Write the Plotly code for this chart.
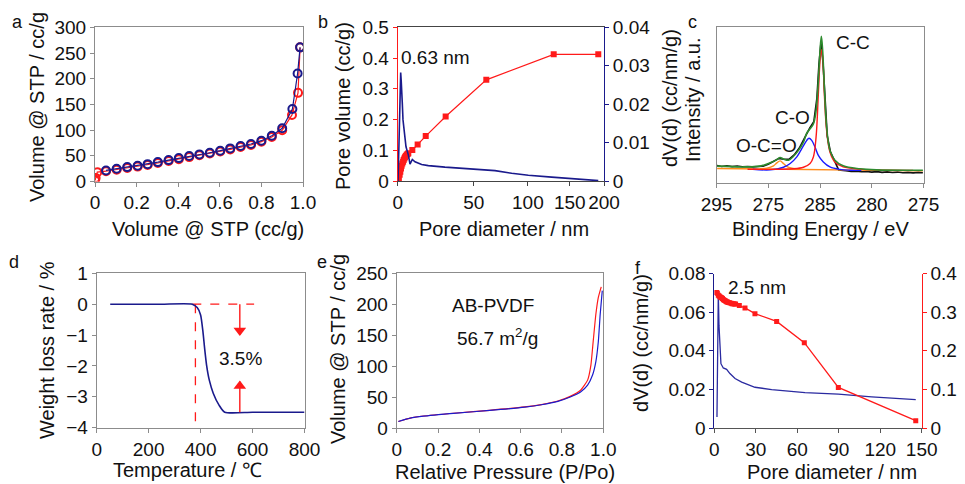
import math
import plotly.graph_objects as go

W, H = 965, 484
RED = "#ff1a1a"
NAVY = "#1a1a8c"
GREY = "#8c8c8c"
FONT = "Liberation Sans, Arial, sans-serif"

# ---------------- Panel a: isotherm (circles) ----------------
a_ads_x = [0.0005, 0.003, 0.011, 0.053, 0.104, 0.155, 0.205, 0.253, 0.302, 0.354, 0.403,
           0.453, 0.502, 0.552, 0.602, 0.65, 0.70, 0.75, 0.80, 0.85, 0.90, 0.947, 0.976, 0.986]
a_ads_y = [2, 7, 18.2, 20, 23, 26.2, 29, 32, 36, 40, 43.5, 47.5, 51, 54.5, 58.3, 62.5, 67,
           71, 77.5, 86.5, 99.6, 129.5, 172.5, 261]
a_des_x = [0.053, 0.104, 0.155, 0.205, 0.253, 0.302, 0.354, 0.403, 0.453, 0.502, 0.552,
           0.602, 0.65, 0.70, 0.75, 0.80, 0.85, 0.90, 0.949, 0.974, 0.986]
a_des_y = [21.5, 24.7, 28, 30.6, 33.8, 37.7, 41.6, 45.5, 49.5, 52.7, 56, 59.9, 64.4, 69,
           72.9, 79.4, 89, 103.5, 141, 210, 261]
a_xticks = [0, 0.2, 0.4, 0.6, 0.8, 1.0]
a_xticktext = ["0", "0.2", "0.4", "0.6", "0.8", "1.0"]

# ---------------- Panel b: pore size distribution ----------------
b_cum_d = [0.34, 0.6, 1.05, 1.4, 1.77, 2.1, 2.49, 2.9, 3.23, 3.6, 3.96, 4.4, 4.9, 5.4, 5.82,
           8.1, 11.2, 16.1, 29.1, 60.3, 129.5, 191]
b_cum_v = [0.0, 0.01, 0.02, 0.03, 0.041, 0.05, 0.057, 0.063, 0.068, 0.073, 0.077, 0.081,
           0.085, 0.088, 0.09, 0.101, 0.119, 0.146, 0.21, 0.329, 0.412, 0.412]
b_dv_d = [0, 0.16, 0.6, 1.05, 1.35, 1.6, 1.9, 2.13, 2.5, 2.86, 3.59, 4.52, 5.82, 6.77, 8.1,
          9.65, 13.6, 17.7, 28.6, 40.6, 59.1, 67.9, 83.5, 100.5, 127, 161.5, 191]
b_dv_v = [0, 0.0, 0.008, 0.021, 0.027, 0.0282, 0.026, 0.0246, 0.02, 0.0159, 0.012, 0.0089,
          0.0068, 0.0044, 0.0056, 0.005, 0.0043, 0.004, 0.0036, 0.0033, 0.0029, 0.0027,
          0.002, 0.0015, 0.001, 0.0005, 0.0001]
b_xticks = [0, 50, 100, 150, 200]
b_xticktext = ["0", "50", "100", "150", "200"]
B_OFFSET = 100  # axis of the original behaves like log(d + 100)

# ---------------- Panel c: XPS C1s ----------------
c_raw_be = [294.95, 294.5, 294.0, 293.5, 293.0, 292.5, 292.0, 291.5, 291.0, 290.5, 290.0,
            289.5, 289.0, 288.5, 288.0, 287.5, 287.0, 286.5, 286.0, 285.6, 285.3, 285.1,
            284.9, 284.7, 284.5, 284.3, 284.0, 283.6, 283.2, 282.5, 282.0, 281.5, 281.0,
            280.5, 280.0, 279.5, 279.0, 278.5, 278.0, 277.5, 277.0, 276.5, 276.0, 275.5, 275.06]
c_raw_i = [0.110, 0.104, 0.108, 0.103, 0.106, 0.102, 0.104, 0.101, 0.104, 0.106, 0.118,
           0.135, 0.155, 0.150, 0.150, 0.178, 0.222, 0.285, 0.350, 0.390, 0.540, 0.760,
           0.900, 0.760, 0.520, 0.300, 0.200, 0.140, 0.082, 0.076, 0.072, 0.074, 0.070,
           0.072, 0.068, 0.071, 0.066, 0.069, 0.065, 0.068, 0.064, 0.066, 0.063, 0.066, 0.064]
c_env_be = [294.94, 292.37, 290.77, 289.81, 289.17, 288.85, 288.53, 288.04, 287.56, 287.08,
            286.6, 286.28, 285.96, 285.64, 285.38, 285.16, 285.0, 284.87, 284.74, 284.58,
            284.36, 284.04, 283.56, 282.76, 281.15, 279.55, 275.06]
c_env_i = [0.106, 0.101, 0.106, 0.127, 0.148, 0.161, 0.152, 0.144, 0.169, 0.207, 0.26, 0.317,
           0.345, 0.376, 0.461, 0.651, 0.841, 0.937, 0.841, 0.609, 0.355, 0.207, 0.144, 0.108,
           0.089, 0.082, 0.080]
c_cc_be = [292.0, 287.56, 286.6, 285.96, 285.64, 285.38, 285.16, 285.0, 284.87, 284.74,
           284.58, 284.36, 284.04, 283.56, 282.76, 281.15, 279.55, 276.0]
c_cc_i = [0.086, 0.089, 0.099, 0.123, 0.165, 0.292, 0.567, 0.778, 0.852, 0.799, 0.567, 0.334,
          0.197, 0.133, 0.101, 0.087, 0.082, 0.079]
c_co_be = [291.5, 289.81, 288.53, 287.88, 287.24, 286.76, 286.28, 286.06, 285.8, 285.48,
           285.16, 284.68, 284.04, 283.08, 282.12, 281.0]
c_co_i = [0.086, 0.082, 0.099, 0.123, 0.165, 0.218, 0.271, 0.285, 0.271, 0.228, 0.175, 0.133,
          0.101, 0.085, 0.080, 0.079]
c_occ_be = [290.8, 290.13, 289.49, 289.17, 288.85, 288.53, 288.14, 287.56, 287.0]
c_occ_i = [0.089, 0.093, 0.108, 0.127, 0.140, 0.123, 0.101, 0.091, 0.088]
c_base_be = [294.94, 275.06]
c_base_i = [0.091, 0.076]
c_xticks = [295, 290, 285, 280, 275]
c_xticktext = ["295", "275", "285", "280", "275"]

# ---------------- Panel d: TGA ----------------
d_temp = [52, 150, 250, 368, 387, 400, 409, 415.5, 423, 433.5, 449, 471, 493, 600, 800]
d_loss = [0.0, 0.0, 0.0, 0.0, -0.11, -0.35, -0.89, -1.43, -1.97, -2.46, -2.89, -3.27, -3.5,
          -3.5, -3.5]
d_hline_x = [368, 606]
d_hline_y = [0, 0]
d_vline_x = [380, 380]
d_vline_y = [0, -4]
d_arrow_x = [551, 551]
d_arrow_down_y = [0, -1.0]     # shaft start -> arrow tip
d_arrow_up_y = [-3.5, -2.5]    # shaft start -> arrow tip
HEAD = 0.15                    # arrow head drawn just behind the tip

# ---------------- Panel e: AB-PVDF isotherm ----------------
e_des_p = [0.008, 0.065, 0.13, 0.29, 0.45, 0.62, 0.70, 0.78, 0.84, 0.89, 0.924, 0.948,
           0.964, 0.976, 0.985, 0.995]
e_des_v = [10.9, 16.3, 19.6, 24.5, 28.8, 34.2, 38, 43.5, 50.5, 58.7, 69.6, 85.9, 107.6, 140,
           184, 222]
e_ads_p = [0.008, 0.065, 0.13, 0.29, 0.45, 0.62, 0.70, 0.78, 0.84, 0.89, 0.924, 0.94, 0.951,
           0.964, 0.976, 0.99]
e_ads_v = [10.9, 16.5, 19.8, 24.7, 29, 34.4, 38.3, 44, 51.5, 61.4, 77.7, 102, 140, 184, 211,
           228]

# ---------------- Panel f: AB-PVDF pore distribution ----------------
f_dv_d = [1.93, 2.4, 2.9, 3.4, 4.1, 4.8, 6.5, 8.9, 11.3, 15, 19.8, 29.4, 41.5, 65.6, 89.7,
          113.8, 145.7]
f_dv_v = [0.0057, 0.0325, 0.0696, 0.053, 0.0394, 0.0333, 0.0311, 0.0304, 0.0282, 0.0256,
          0.0238, 0.0211, 0.0199, 0.0183, 0.0175, 0.0161, 0.0147]
f_cum_d = [1.7, 2.2, 2.9, 3.5, 4.1, 4.7, 5.3, 5.9, 6.5, 7.1, 7.7, 8.3, 8.9, 9.5, 10.1, 11.1,
           12.1, 12.9, 13.7, 14.5, 15.4, 18.1, 22.2, 29.4, 45.1, 65.1, 89.7, 145.7]
f_cum_v = [0.351, 0.349, 0.344, 0.342, 0.340, 0.338, 0.337, 0.335, 0.333, 0.331, 0.330,
           0.328, 0.327, 0.326, 0.325, 0.324, 0.323, 0.322, 0.322, 0.321, 0.321, 0.317,
           0.311, 0.296, 0.276, 0.221, 0.105, 0.019]


def dx(l, r):
    return [l / W, r / W]


def dy(t, b):
    return [1 - b / H, 1 - t / H]


fig = go.Figure()

# a
fig.add_trace(go.Scatter(x=a_ads_x, y=a_ads_y, xaxis="x", yaxis="y", mode="lines+markers",
                         line=dict(color=RED, width=1.2),
                         marker=dict(symbol="circle-open", size=8, color=RED,
                                     line=dict(width=2, color=RED))))
fig.add_trace(go.Scatter(x=a_des_x, y=a_des_y, xaxis="x", yaxis="y", mode="lines+markers",
                         line=dict(color=NAVY, width=1.2),
                         marker=dict(symbol="circle-open", size=8, color=NAVY,
                                     line=dict(width=2, color=NAVY))))

# b
fig.add_trace(go.Scatter(x=[d + B_OFFSET for d in b_cum_d], y=b_cum_v, xaxis="x2", yaxis="y2",
                         mode="lines+markers", line=dict(color=RED, width=1.2),
                         marker=dict(symbol="square", size=6, color=RED)))
fig.add_trace(go.Scatter(x=[d + B_OFFSET for d in b_dv_d], y=b_dv_v, xaxis="x2", yaxis="y7",
                         mode="lines", line=dict(color=NAVY, width=1.6)))

# c
fig.add_trace(go.Scatter(x=c_raw_be, y=c_raw_i, xaxis="x3", yaxis="y3", mode="lines",
                         line=dict(color="#111111", width=1.6)))
fig.add_trace(go.Scatter(x=c_base_be, y=c_base_i, xaxis="x3", yaxis="y3", mode="lines",
                         line=dict(color="#ff8c1a", width=1.4)))
fig.add_trace(go.Scatter(x=c_occ_be, y=c_occ_i, xaxis="x3", yaxis="y3", mode="lines",
                         line=dict(color="#ff8c1a", width=1.4, shape="spline")))
fig.add_trace(go.Scatter(x=c_co_be, y=c_co_i, xaxis="x3", yaxis="y3", mode="lines",
                         line=dict(color="#1a1aff", width=1.4, shape="spline")))
fig.add_trace(go.Scatter(x=c_cc_be, y=c_cc_i, xaxis="x3", yaxis="y3", mode="lines",
                         line=dict(color="#ff1a1a", width=1.4, shape="spline")))
fig.add_trace(go.Scatter(x=c_env_be, y=c_env_i, xaxis="x3", yaxis="y3", mode="lines",
                         line=dict(color="#2e8b2e", width=1.6, shape="spline")))

# d
fig.add_trace(go.Scatter(x=d_hline_x, y=d_hline_y, xaxis="x4", yaxis="y4", mode="lines",
                         line=dict(color=RED, width=1.3, dash="dash")))
fig.add_trace(go.Scatter(x=d_vline_x, y=d_vline_y, xaxis="x4", yaxis="y4", mode="lines",
                         line=dict(color=RED, width=1.3, dash="dash")))
fig.add_trace(go.Scatter(x=d_temp, y=d_loss, xaxis="x4", yaxis="y4", mode="lines",
                         line=dict(color=NAVY, width=1.6, shape="spline", smoothing=0.6)))
# arrows: shaft + triangular head
fig.add_trace(go.Scatter(x=d_arrow_x, y=d_arrow_down_y, xaxis="x4", yaxis="y4",
                         mode="lines", line=dict(color=RED, width=1.4)))
fig.add_trace(go.Scatter(x=d_arrow_x, y=d_arrow_up_y, xaxis="x4", yaxis="y4",
                         mode="lines", line=dict(color=RED, width=1.4)))
fig.add_trace(go.Scatter(x=[d_arrow_x[1], d_arrow_x[1]],
                         y=[d_arrow_down_y[1] + HEAD, d_arrow_up_y[1] - HEAD],
                         xaxis="x4", yaxis="y4", mode="markers",
                         marker=dict(symbol=["triangle-down", "triangle-up"], size=11,
                                     color=RED, line=dict(width=0))))

# e
fig.add_trace(go.Scatter(x=e_ads_p, y=e_ads_v, xaxis="x5", yaxis="y5", mode="lines",
                         line=dict(color=RED, width=1.2, shape="spline", smoothing=0.5)))
fig.add_trace(go.Scatter(x=e_des_p, y=e_des_v, xaxis="x5", yaxis="y5", mode="lines",
                         line=dict(color="#1a1acc", width=1.2, shape="spline", smoothing=0.5)))

# f
fig.add_trace(go.Scatter(x=f_dv_d, y=f_dv_v, xaxis="x6", yaxis="y6", mode="lines",
                         line=dict(color="#2a2aa0", width=1.3)))
fig.add_trace(go.Scatter(x=f_cum_d, y=f_cum_v, xaxis="x6", yaxis="y8", mode="lines+markers",
                         line=dict(color=RED, width=1.3),
                         marker=dict(symbol="square", size=5, color=RED)))

tickfont = dict(family=FONT, size=19, color="#111111")


def ax(domain, rng, anchor, linecolor=GREY, mirror=True, **kw):
    d = dict(domain=domain, range=rng, anchor=anchor, showgrid=False, zeroline=False,
             showline=True, linecolor=linecolor, linewidth=1, mirror=mirror, ticks="outside",
             ticklen=4, tickcolor=linecolor, tickfont=tickfont, tickangle=0,
             automargin=False, fixedrange=True)
    d.update(kw)
    return d


layout = dict(
    template="none",
    width=W, height=H, margin=dict(l=0, r=0, t=0, b=0, pad=0), showlegend=False,
    paper_bgcolor="white", plot_bgcolor="white", font=dict(family=FONT, color="#111111"),
    # a
    xaxis=ax(dx(95, 303), [0, 1], "y", tickvals=a_xticks, ticktext=a_xticktext),
    yaxis=ax(dy(27.3, 181.5), [0, 300], "x", tickvals=[0, 50, 100, 150, 200, 250, 300]),
    # b
    xaxis2=ax(dx(397.7, 604), [2, math.log10(300)], "y2", type="log",
              tickvals=[t + B_OFFSET for t in b_xticks], ticktext=b_xticktext,
              linecolor="#444444"),
    yaxis2=ax(dy(27.3, 181), [0, 0.5], "x2", linecolor=RED, mirror=False,
              tickvals=[0, 0.1, 0.2, 0.3, 0.4, 0.5],
              ticktext=["0", "0.1", "0.2", "0.3", "0.4", "0.5"]),
    yaxis7=ax(dy(27.3, 181), [0, 0.04], "x2", linecolor=NAVY, mirror=False,
              overlaying="y2", side="right",
              tickvals=[0, 0.01, 0.02, 0.03, 0.04],
              ticktext=["0", "0.01", "0.02", "0.03", "0.04"]),
    # c
    xaxis3=ax(dx(716.5, 923.5), [295, 275], "y3", tickvals=c_xticks, ticktext=c_xticktext),
    yaxis3=ax(dy(26.5, 182.7), [0, 1.0], "x3", ticks="", showticklabels=False),
    # d
    xaxis4=ax(dx(96.7, 304.5), [0, 800], "y4", tickvals=[0, 200, 400, 600, 800]),
    yaxis4=ax(dy(273.3, 427.7), [-4, 1], "x4", tickvals=[-4, -3, -2, -1, 0, 1]),
    # e
    xaxis5=ax(dx(396.7, 603.3), [0, 1], "y5", tickvals=a_xticks, ticktext=a_xticktext),
    yaxis5=ax(dy(273.3, 428.3), [0, 250], "x5", tickvals=[0, 50, 100, 150, 200, 250]),
    # f
    xaxis6=ax(dx(714.3, 921.7), [0, 150], "y6", mirror=False, linecolor="#555555",
              tickvals=[0, 30, 60, 90, 120, 150]),
    yaxis6=ax(dy(273.5, 428), [0, 0.08], "x6", linecolor=NAVY, mirror=False,
              tickvals=[0, 0.02, 0.04, 0.06, 0.08],
              ticktext=["0", "0.02", "0.04", "0.06", "0.08"]),
    yaxis8=ax(dy(273.5, 428), [0, 0.4], "x6", linecolor=RED, mirror=False,
              overlaying="y6", side="right",
              tickvals=[0, 0.1, 0.2, 0.3, 0.4],
              ticktext=["0", "0.1", "0.2", "0.3", "0.4"]),
)
fig.update_layout(**layout)


def txt(text, x, y, size=20, angle=0, color="#111111"):
    fig.add_annotation(text=text, x=x / W, y=1 - y / H, xref="paper", yref="paper",
                       showarrow=False, textangle=angle, xanchor="center", yanchor="middle",
                       font=dict(family=FONT, size=size, color=color))


# panel letters
for letter, px, py in [("a", 17, 22), ("b", 323, 22), ("c", 692, 22),
                       ("d", 14, 262), ("e", 322, 262), ("f", 638, 268)]:
    txt(letter, px, py, size=18)

# axis titles
txt("Volume @ STP / cc/g", 37, 107, angle=-90)
txt("Volume @ STP (cc/g)", 208, 229)
txt("Pore volume (cc/g)", 343, 106, angle=-90)
txt("Pore diameter / nm", 504, 229)
txt("dV(d) (cc/nm/g)", 670, 98, angle=-90)
txt("Intensity / a.u.", 693, 100, angle=-90)
txt("Binding Energy / eV", 820, 229)
txt("Weight loss rate / %", 47, 350, angle=-90)
txt("Temperature / ℃", 187, 470)
txt("Volume @ STP / cc/g", 338, 349, angle=-90)
txt("Relative Pressure (P/Po)", 505, 472)
txt("dV(d) (cc/nm/g)", 641, 343, angle=-90)
txt("Pore diameter / nm", 832, 472)

# in-plot labels
txt("0.63 nm", 435, 57, size=19)
txt("C-C", 853, 43, size=19)
txt("C-O", 792, 117, size=19)
txt("O-C=O", 766, 145, size=19)
txt("3.5%", 240, 358, size=19)
txt("AB-PVDF", 493, 305, size=19)
txt("56.7 m<sup>2</sup>/g", 498, 337, size=19)
txt("2.5 nm", 757, 287, size=19)

fig.write_html("out.html")
